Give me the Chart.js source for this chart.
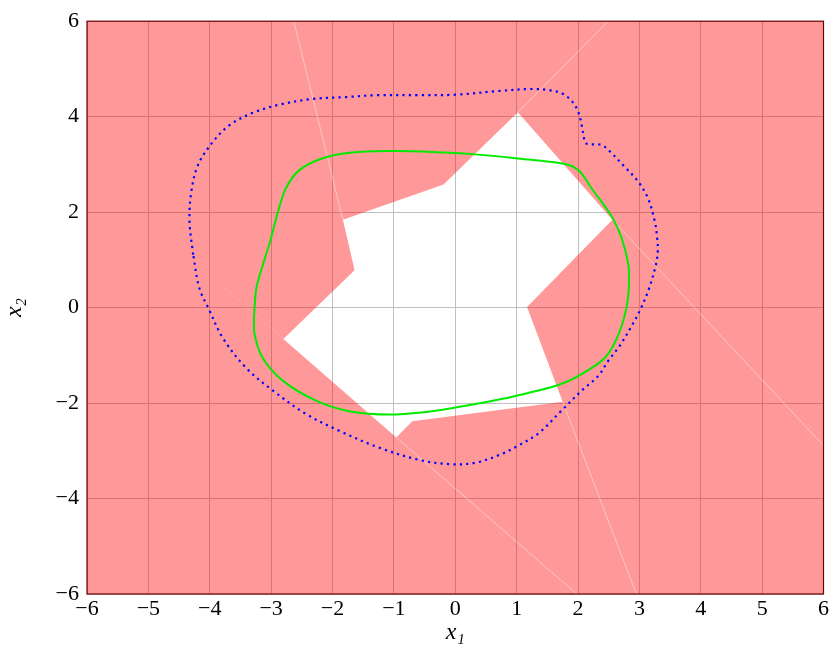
<!DOCTYPE html>
<html>
<head>
<meta charset="utf-8">
<script src="https://cdn.jsdelivr.net/npm/chart.js@4"></script>
<style>
  html, body { margin: 0; padding: 0; background: #fff; }
  #wrap { width: 831px; height: 653px; }
</style>
</head>
<body>
<div id="wrap"><canvas id="chart"></canvas></div>
<script>
// esquinas del área de trazado
const boxX = [-6, 6, 6, -6, -6];
const boxY = [-6, -6, 6, 6, -6];

// polígono blanco (región no coloreada)
const starX = [1.02, 2.56, 1.17, 1.75, -0.70, -0.96, -2.80, -1.64, -1.83, -0.19];
const starY = [4.09, 1.84, 0.01, -1.97, -2.38, -2.72, -0.66, 0.78, 1.84, 2.58];

// curva verde
const greenX = [-3.28, -3.24, -3.10, -3.00, -2.89, -2.76, -2.54, -2.16, -1.68, -1.03, -0.54, 0.33, 0.98, 1.82, 2.03, 2.22, 2.55, 2.71, 2.82, 2.83, 2.79, 2.66, 2.44, 2.01, 1.68, 0.98, 0.33, -0.32, -1.03, -1.73, -2.27, -2.81, -3.14, -3.27, -3.28];
const greenY = [-0.21, 0.41, 1.04, 1.46, 2.00, 2.50, 2.88, 3.13, 3.25, 3.28, 3.27, 3.21, 3.13, 3.00, 2.85, 2.50, 1.91, 1.46, 0.90, 0.48, 0.00, -0.56, -1.05, -1.43, -1.62, -1.85, -2.02, -2.16, -2.24, -2.17, -1.95, -1.53, -1.05, -0.56, -0.21];

// curva azul punteada
const blueX = [-4.27, -4.33, -4.30, -4.19, -3.95, -3.68, -3.30, -2.87, -2.33, -1.78, -1.30, -0.59, 0.00, 0.73, 1.25, 1.55, 1.75, 1.91, 2.01, 2.06, 2.09, 2.13, 2.38, 2.52, 2.76, 2.98, 3.14, 3.25, 3.29, 3.30, 3.27, 3.16, 3.03, 2.89, 2.68, 2.49, 2.33, 2.06, 1.73, 1.36, 1.00, 0.73, 0.33, -0.08, -0.59, -1.25, -1.89, -2.43, -2.97, -3.41, -3.79, -4.00, -4.17, -4.27];
const blueY = [1.11, 1.81, 2.43, 2.99, 3.47, 3.82, 4.08, 4.25, 4.37, 4.41, 4.45, 4.45, 4.46, 4.54, 4.58, 4.55, 4.48, 4.31, 4.08, 3.82, 3.62, 3.44, 3.41, 3.27, 2.95, 2.64, 2.29, 1.81, 1.46, 1.18, 0.90, 0.41, 0.00, -0.35, -0.80, -1.12, -1.43, -1.74, -2.16, -2.63, -2.91, -3.08, -3.25, -3.28, -3.19, -2.93, -2.58, -2.23, -1.74, -1.26, -0.63, -0.07, 0.41, 1.11];

// prolongaciones de las aristas (líneas blancas tenues)
const rayStartX = [-1.83, 1.02, 2.56, 1.75, -0.96, -2.80];
const rayStartY = [1.84, 4.09, 1.84, -1.97, -2.72, -0.66];
const rayEndX = [-2.63, 2.49, 6.00, 2.95, 1.98, -3.85];
const rayEndY = [6.00, 6.00, -2.89, -6.00, -6.00, 0.52];

const pts = (xs, ys) => xs.map((x, i) => ({ x: x, y: ys[i] }));

// rectángulo + polígono en sentido contrario => agujero
const shapePts = pts(boxX, boxY)
  .concat(pts(starX, starY))
  .concat([{ x: starX[0], y: starY[0] }, { x: boxX[0], y: boxY[0] }]);

// order alto = se dibuja primero (debajo)
const datasets = [{
  data: shapePts,
  showLine: true,
  fill: 'shape',
  backgroundColor: 'rgba(255,0,0,0.4)',
  borderColor: 'rgba(0,0,0,0)',
  borderWidth: 0,
  pointRadius: 0,
  tension: 0,
  order: 10
}];

rayStartX.forEach((x, i) => {
  datasets.push({
    data: [{ x: x, y: rayStartY[i] }, { x: rayEndX[i], y: rayEndY[i] }],
    showLine: true,
    borderColor: i === 5 ? 'rgba(255,255,255,0.12)' : 'rgba(255,255,255,0.42)',
    borderWidth: 1,
    pointRadius: 0,
    order: 5
  });
});

datasets.push({
  data: pts(blueX, blueY),
  showLine: true,
  borderColor: 'rgb(0,0,255)',
  borderWidth: 2.2,
  borderDash: [2.2, 4.2],
  borderCapStyle: 'butt',
  pointRadius: 0,
  tension: 0.35,
  order: 2
});

datasets.push({
  data: pts(greenX, greenY),
  showLine: true,
  borderColor: 'rgb(0,235,0)',
  borderWidth: 2,
  pointRadius: 0,
  tension: 0.3,
  order: 1
});

// marco del área (negro bajo el rojo => rojo oscuro)
const framePlugin = {
  id: 'frame',
  afterDatasetsDraw(chart) {
    const { ctx, chartArea: a } = chart;
    ctx.save();
    ctx.strokeStyle = 'rgb(110,0,0)';
    ctx.lineWidth = 1.2;
    ctx.strokeRect(a.left, a.top, a.right - a.left, a.bottom - a.top);
    ctx.restore();
  }
};

const tickFont = { family: "'Liberation Serif', serif", size: 22 };
const titleFont = { family: "'Liberation Serif', serif", size: 24, style: 'italic' };
const minus = v => String(v).replace('-', '\u2212');

new Chart(document.getElementById('chart'), {
  type: 'scatter',
  data: { datasets: datasets },
  options: {
    responsive: true,
    maintainAspectRatio: false,
    animation: false,
    layout: { padding: { top: 19, right: 5, left: 0, bottom: 0 } },
    plugins: { legend: { display: false }, tooltip: { enabled: false } },
    scales: {
      x: {
        type: 'linear', min: -6, max: 6,
        ticks: { stepSize: 1, color: '#000', font: tickFont, padding: 2, maxRotation: 0, callback: minus },
        grid: { color: 'rgb(192,192,192)', drawTicks: false },
        border: { display: false },
        title: { display: true, text: 'x\u2081', color: '#000', font: titleFont, padding: { top: 4, bottom: 6 } },
        afterFit: s => { s.height = 59; }
      },
      y: {
        type: 'linear', min: -6, max: 6,
        ticks: { stepSize: 2, color: '#000', font: tickFont, padding: 8, callback: minus },
        grid: { color: 'rgb(192,192,192)', drawTicks: false },
        border: { display: false },
        title: { display: true, text: 'x\u2082', color: '#000', font: titleFont, padding: { top: 0, bottom: 4 } },
        afterFit: s => { s.width = 87; }
      }
    }
  },
  plugins: [framePlugin]
});
</script>
</body>
</html>
